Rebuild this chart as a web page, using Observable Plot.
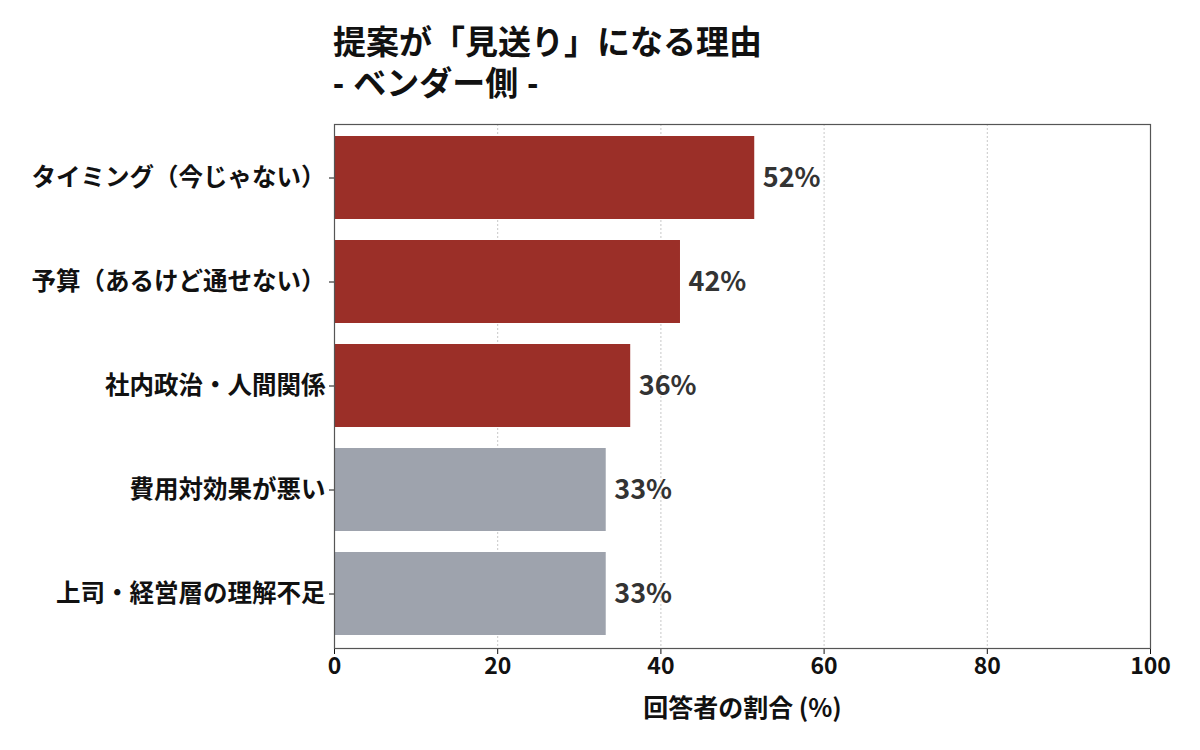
<!DOCTYPE html>
<html>
<head>
<meta charset="utf-8">
<script src="https://cdn.jsdelivr.net/npm/d3@7"></script>
<script src="https://cdn.jsdelivr.net/npm/@observablehq/plot@0.6"></script>
<style>
  html, body { margin: 0; padding: 0; background: #fff; }
  #wrap { position: relative; width: 1200px; height: 750px; }
  .title { position: absolute; left: 333px; font-family: "Liberation Sans", "Noto Sans CJK JP", sans-serif; font-weight: 700; font-size: 33px; line-height: 38px; height: 38px; color: #111; white-space: nowrap; }
  #t1 { top: 24px; }
  #t2 { top: 65px; }
  #chart { position: absolute; left: 0; top: 0; }
</style>
</head>
<body>
<div id="wrap">
  <div id="chart"></div>
  <div class="title" id="t1">提案が「見送り」になる理由</div>
  <div class="title" id="t2">- ベンダー側 -</div>
</div>
<script>
const categories = [
  "タイミング（今じゃない）",
  "予算（あるけど通せない）",
  "社内政治・人間関係",
  "費用対効果が悪い",
  "上司・経営層の理解不足"
];
const values = [51.5, 42.4, 36.3, 33.3, 33.3];
const groups = ["上位", "上位", "上位", "その他", "その他"];
const xTicks = [0, 20, 40, 60, 80, 100];

const data = categories.map((c, i) => ({ reason: c, pct: values[i], group: groups[i], label: Math.round(values[i]) + "%" }));

const font = '"Noto Sans CJK JP", "Noto Sans", sans-serif';

const chart = Plot.plot({
  width: 1200,
  height: 750,
  marginLeft: 334,
  marginRight: 50,
  marginTop: 124,
  marginBottom: 102,
  style: { fontFamily: font, fontWeight: "bold", fontSize: "23px", color: "#111", background: "#fff" },
  x: { domain: [0, 100], ticks: xTicks },
  y: { domain: categories, paddingInner: 0.2, paddingOuter: 0.1 },
  color: { domain: ["上位", "その他"], range: ["#9b2f28", "#9ea3ad"] },
  marks: [
    Plot.gridX(xTicks.filter(t => t > 0 && t < 100), { stroke: "#c8c8c8", strokeOpacity: 1, strokeDasharray: "2,2", strokeWidth: 1 }),
    Plot.barX(data, { x: "pct", y: "reason", fill: "group" }),
    Plot.text(data, { x: "pct", y: "reason", text: "label", textAnchor: "start", dx: 8, fontSize: 27, fontWeight: "bold", fill: "#333" }),
    Plot.axisX({ ticks: xTicks, tickSize: 6, tickPadding: 3, fontSize: 23, fontWeight: "bold", label: "回答者の割合 (%)", labelAnchor: "center", labelArrow: "none", labelOffset: 68 }),
    Plot.axisY({ tickSize: 5, tickPadding: 4, fontSize: 24.5, fontWeight: "bold", label: null }),
    Plot.frame({ stroke: "#555", strokeWidth: 1.2 })
  ]
});
document.getElementById("chart").appendChild(chart);
chart.querySelectorAll("g[aria-label='x-axis label']").forEach(el => el.setAttribute("font-size", 25));
</script>
</body>
</html>
